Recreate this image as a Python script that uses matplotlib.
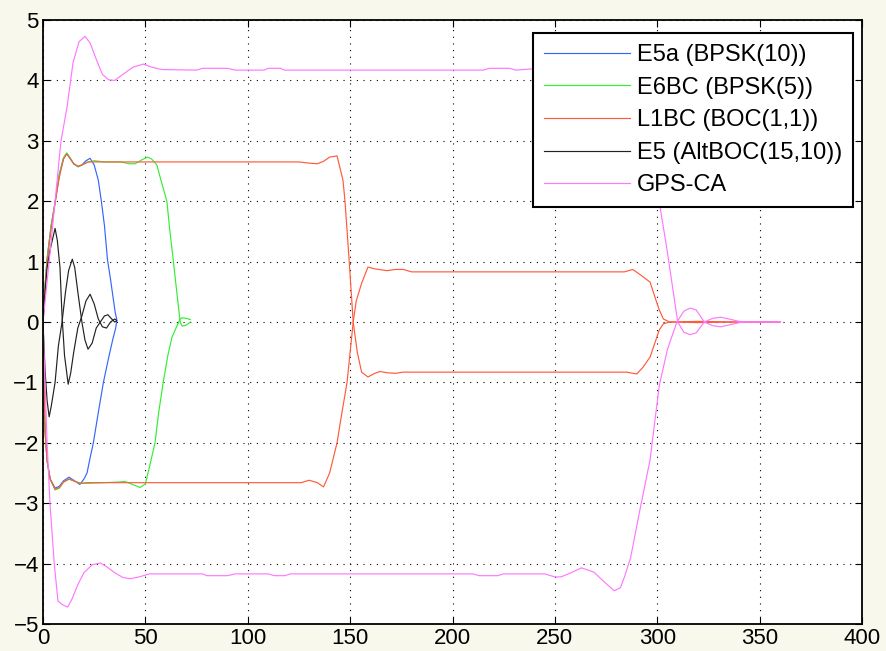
import matplotlib
matplotlib.use("Agg")
import matplotlib.pyplot as plt

# ---------------- data ----------------
labels = ["E5a (BPSK(10))", "E6BC (BPSK(5))", "L1BC (BOC(1,1))", "E5 (AltBOC(15,10))", "GPS-CA"]

e5a_up_x = [0, 1, 2, 4, 6, 8, 10, 11.6, 13, 15, 17.3, 19, 21, 23, 25, 27, 28.5, 30, 31.5, 33, 35.3, 36]
e5a_up_y = [0, 0.6, 1.05, 1.6, 2.0, 2.45, 2.7, 2.79, 2.72, 2.62, 2.57, 2.6, 2.67, 2.71, 2.6, 2.35, 2.0, 1.6, 1.03, 0.7, 0.15, 0.05]
e5a_lo_x = [0, 0.5, 1, 2, 3.5, 5.9, 8, 10, 12.7, 15, 18, 20, 21.5, 23, 24.6, 27, 29.5, 32, 34, 35.5, 36]
e5a_lo_y = [0, -1.0, -1.8, -2.3, -2.6, -2.75, -2.72, -2.63, -2.57, -2.62, -2.69, -2.6, -2.5, -2.25, -2.0, -1.5, -1.0, -0.6, -0.3, -0.1, 0.02]

e6_up_x = [0, 1, 2, 4, 6, 8, 10, 11.6, 13, 15, 17, 19, 22, 25, 30, 38, 42, 45, 48, 51, 53, 55.6, 58, 60.5, 62, 63.6, 65, 66, 67, 68, 70, 72]
e6_up_y = [0, 0.6, 1.05, 1.6, 2.0, 2.45, 2.72, 2.8, 2.73, 2.62, 2.57, 2.6, 2.65, 2.67, 2.65, 2.65, 2.62, 2.62, 2.68, 2.73, 2.7, 2.6, 2.3, 2.0, 1.5, 1.03, 0.6, 0.3, 0.0, -0.07, -0.05, 0.0]
e6_lo_x = [0, 0.5, 1, 2, 3.5, 5.9, 8, 10, 12.7, 15, 18, 22, 30, 37, 40, 43, 47.4, 50, 52, 54.7, 56.5, 58.7, 61, 63, 66, 67, 68, 70, 72]
e6_lo_y = [0, -1.0, -1.8, -2.3, -2.6, -2.78, -2.75, -2.65, -2.6, -2.63, -2.67, -2.67, -2.66, -2.65, -2.64, -2.68, -2.74, -2.68, -2.4, -2.0, -1.5, -1.0, -0.55, -0.25, -0.02, 0.05, 0.07, 0.06, 0.04]

l1_up_x = [0, 1, 2, 4, 6, 8, 10, 11.6, 13, 15, 17, 19, 22, 30, 125, 130, 134, 137, 140, 143.6, 146.5, 147.5, 149.5, 151.5, 153.5, 155.6, 158.7, 162, 164.6, 168, 172, 176, 180, 285, 290, 293, 296.5, 301, 303, 306, 320, 340, 360]
l1_up_y = [0, 0.55, 1.0, 1.55, 2.0, 2.4, 2.7, 2.78, 2.72, 2.62, 2.58, 2.6, 2.65, 2.65, 2.65, 2.63, 2.62, 2.66, 2.73, 2.75, 2.35, 2.0, 1.03, 0.0, -0.5, -0.83, -0.91, -0.85, -0.82, -0.84, -0.85, -0.83, -0.83, -0.83, -0.86, -0.75, -0.58, -0.13, -0.03, 0.0, 0.01, 0.0, 0.0]
l1_lo_x = [0, 0.5, 1, 2, 3.5, 5.9, 8, 10, 12.7, 15, 18, 22, 30, 126, 130, 134, 137, 140, 143.6, 146, 148.5, 150, 151.5, 153, 155.6, 158.7, 162, 168, 172, 176, 180, 284, 288, 291, 293, 296.5, 299, 301, 303, 306, 320, 340, 360]
l1_lo_y = [0, -1.0, -1.8, -2.3, -2.6, -2.77, -2.74, -2.65, -2.6, -2.63, -2.67, -2.66, -2.66, -2.66, -2.62, -2.66, -2.73, -2.5, -2.0, -1.5, -1.0, -0.5, 0.0, 0.35, 0.64, 0.91, 0.88, 0.85, 0.87, 0.87, 0.83, 0.83, 0.87, 0.8, 0.75, 0.66, 0.4, 0.2, 0.05, 0.0, -0.01, 0.0, 0.0]

e5_a_x = [0, 1, 2, 3.5, 5.9, 7, 8.3, 9.3, 10.5, 12.3, 13.5, 15, 17, 19, 21, 23, 25, 27, 29, 31, 33, 35, 36]
e5_a_y = [0, 0.5, 0.9, 1.2, 1.55, 1.35, 0.9, 0.1, -0.55, -1.03, -0.85, -0.5, -0.1, 0.1, 0.35, 0.46, 0.3, 0.05, -0.08, -0.1, 0.0, 0.05, 0.03]
e5_b_x = [0, 1, 2, 3, 4, 5.9, 7.5, 9.3, 11, 12.5, 14.3, 15.5, 17, 19, 20.5, 22, 24, 26, 28, 30, 31.7, 33, 35, 36]
e5_b_y = [0, -0.8, -1.3, -1.57, -1.4, -1.0, -0.4, 0.0, 0.5, 0.85, 1.04, 0.9, 0.5, 0.0, -0.3, -0.45, -0.35, -0.1, 0.0, 0.1, 0.12, 0.07, 0.0, 0.02]

gps_up_x = [0, 3, 5.9, 8.8, 11.7, 14.7, 17.6, 20.5, 23, 26, 29, 32, 35, 39, 44, 49, 53, 58, 75, 78, 90, 94, 108, 110, 116, 118, 215, 218, 228, 231, 250, 263, 269, 279, 284, 288, 292, 296, 301.3, 304.8, 310, 313, 316, 319, 323, 327, 331, 335, 340, 345, 360]
gps_up_y = [0, 1.0, 2.0, 3.0, 3.55, 4.3, 4.64, 4.73, 4.62, 4.35, 4.1, 4.01, 4.0, 4.1, 4.22, 4.27, 4.22, 4.18, 4.17, 4.2, 4.2, 4.17, 4.17, 4.2, 4.2, 4.17, 4.17, 4.2, 4.2, 4.17, 4.22, 4.07, 4.14, 4.45, 4.22, 4.0, 3.6, 2.9, 1.92, 1.19, 0.0, -0.17, -0.21, -0.18, 0.0, 0.06, 0.08, 0.05, 0.01, 0.0, 0.0]
gps_lo_x = [0, 2, 3.4, 5.5, 7.3, 9.5, 12, 14, 17, 20, 24, 28, 31, 35, 39, 42.5, 47, 52, 78, 80, 90, 94, 110, 113, 118, 121, 210, 213, 222, 225, 245, 250, 253, 258, 263, 269, 274, 279, 282, 284, 287, 291, 296.5, 301, 305, 309.6, 313, 316, 319, 323, 327, 331, 335, 340, 345, 360]
gps_lo_y = [0, -2.0, -3.0, -4.0, -4.62, -4.68, -4.72, -4.6, -4.35, -4.15, -4.02, -3.99, -4.05, -4.15, -4.23, -4.25, -4.22, -4.17, -4.17, -4.2, -4.2, -4.17, -4.17, -4.2, -4.2, -4.17, -4.17, -4.2, -4.2, -4.17, -4.17, -4.22, -4.22, -4.15, -4.07, -4.14, -4.3, -4.45, -4.4, -4.22, -3.9, -3.2, -2.28, -1.05, -0.45, 0.0, 0.18, 0.23, 0.2, 0.0, -0.06, -0.08, -0.05, -0.01, 0.0, 0.0]

x_ticks = [0, 50, 100, 150, 200, 250, 300, 350, 400]
y_ticks = [-5, -4, -3, -2, -1, 0, 1, 2, 3, 4, 5]

colors = ["#3366ff", "#33ee33", "#ff5a3c", "#222222", "#ff77ff"]

# ---------------- plot ----------------
plt.rcParams['font.family'] = ['Liberation Sans', 'DejaVu Sans']
fig = plt.figure(figsize=(8.86, 6.51), dpi=100, facecolor="#f8f8ec")
ax = fig.add_axes([43/886, 27/651, 819/886, 604/651])
ax.set_facecolor("white")

lw = 0.85
series = [
    ((e5a_up_x, e5a_up_y), (e5a_lo_x, e5a_lo_y)),
    ((e6_up_x, e6_up_y), (e6_lo_x, e6_lo_y)),
    ((l1_up_x, l1_up_y), (l1_lo_x, l1_lo_y)),
    ((e5_a_x, e5_a_y), (e5_b_x, e5_b_y)),
    ((gps_up_x, gps_up_y), (gps_lo_x, gps_lo_y)),
]
handles = []
for (up, lo), c, lab in zip(series, colors, labels):
    h, = ax.plot(up[0], up[1], color=c, lw=lw, label=lab)
    ax.plot(lo[0], lo[1], color=c, lw=lw)
    handles.append(h)

ax.set_xlim(0, 400)
ax.set_ylim(-5, 5)
ax.set_xticks(x_ticks)
ax.set_yticks(y_ticks)
ax.tick_params(direction='in', length=5, width=0.8, top=True, right=True,
               labelsize=16, colors='black', pad=3)
ax.grid(True, color='black', linestyle=(0, (1, 5)), linewidth=0.8)
for s in ax.spines.values():
    s.set_linewidth(1.3)
    s.set_color('black')

leg = ax.legend(handles=handles, loc='upper right', bbox_to_anchor=(0.989, 0.978),
                borderaxespad=0, fontsize=17, frameon=True, fancybox=False,
                handlelength=3.65, handletextpad=0.3, labelspacing=0.45,
                borderpad=0.45, framealpha=1)
leg.get_frame().set_edgecolor('black')
leg.get_frame().set_linewidth(1.5)

fig.savefig("out.png", dpi=100, facecolor=fig.get_facecolor())
